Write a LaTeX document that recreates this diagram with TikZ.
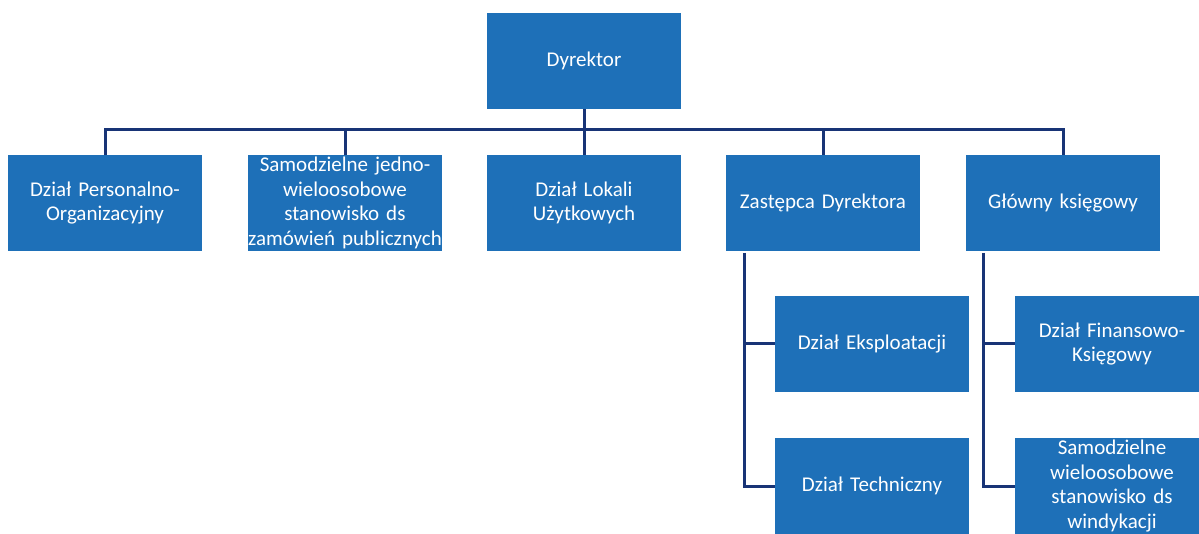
\documentclass[tikz,border=0pt]{standalone}
\usepackage{fontspec}
\setmainfont{Carlito}
\definecolor{boxblue}{RGB}{30,112,184}
\definecolor{linenavy}{RGB}{24,52,118}
\begin{document}
\begin{tikzpicture}[x=1pt,y=-1pt,
  box/.style={fill=boxblue, minimum height=96pt, text=white, align=center,
    font=\fontsize{21}{24.5}\selectfont, inner sep=0pt, text width=194pt},
  conn/.style={draw=linenavy, line width=3pt}]
\useasboundingbox (0,0) rectangle (1199,534);
\clip (0,0) rectangle (1199,534);
\fill[white] (0,0) rectangle (1199,534);
\node[box] (dyr) at (584,61) {Dyrektor};
\node[box] (per) at (105,203) {Dział Personalno-\\Organizacyjny};
\node[box] (sam) at (345,203) {Samodzielne jedno-\\wieloosobowe\\stanowisko ds\\zamówień publicznych};
\node[box] (lok) at (584,203) {Dział Lokali\\Użytkowych};
\node[box] (zd) at (823,203) {Zastępca Dyrektora};
\node[box] (gk) at (1063,203) {Główny księgowy};
\node[box] (ek) at (872,344) {Dział Eksploatacji};
\node[box] (tech) at (872,486) {Dział Techniczny};
\node[box] (fin) at (1112,344) {Dział Finansowo-\\Księgowy};
\node[box] (win) at (1112,486) {Samodzielne\\wieloosobowe\\stanowisko ds\\windykacji};
\coordinate (bus) at (584,130);
\coordinate (zdl) at (744,253);
\coordinate (gkl) at (983,253);
\draw[conn] (dyr.south) -- (lok.north);
\draw[conn] (per.north) |- (bus) -| (gk.north);
\draw[conn] (sam.north) -- (sam.north |- bus);
\draw[conn] (zd.north) -- (zd.north |- bus);
\draw[conn] (zdl) |- (tech.west);
\draw[conn] (zdl |- ek.west) -- (ek.west);
\draw[conn] (gkl) |- (win.west);
\draw[conn] (gkl |- fin.west) -- (fin.west);
\end{tikzpicture}
\end{document}
